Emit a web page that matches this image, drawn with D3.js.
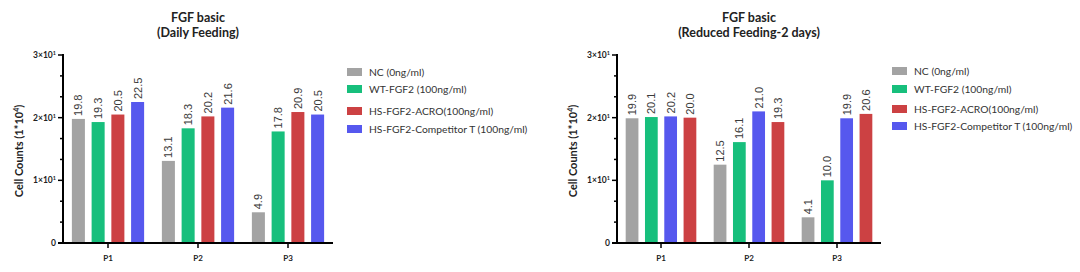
<!DOCTYPE html>
<html>
<head>
<meta charset="utf-8">
<script src="https://cdn.jsdelivr.net/npm/d3@7"></script>
<style>
  body { margin: 0; background: #fff; }
  svg { display: block; }
</style>
</head>
<body>
<div id="chart"></div>
<script>
var passages = ["P1", "P2", "P3"];
var seriesNames = ["NC (0ng/ml)", "WT-FGF2 (100ng/ml)", "HS-FGF2-ACRO(100ng/ml)", "HS-FGF2-Competitor T (100ng/ml)"];
var seriesColors = ["#a3a3a3", "#17bf7c", "#cc4143", "#5658ee"];

// daily feeding, values per series (NC, WT, ACRO, Competitor) across P1..P3
var dailyNC = [19.8, 13.1, 4.9];
var dailyWT = [19.3, 18.3, 17.8];
var dailyACRO = [20.5, 20.2, 20.9];
var dailyComp = [22.5, 21.6, 20.5];

// reduced feeding, bars drawn in order NC, WT, Competitor, ACRO
var reducedNC = [19.9, 12.5, 4.1];
var reducedWT = [20.1, 16.1, 10.0];
var reducedACRO = [20.0, 19.3, 20.6];
var reducedComp = [20.2, 21.0, 19.9];

var yTicks = [0, 10, 20, 30];
var yTickLabels = ["0", "1×10", "2×10", "3×10"];

var svg = d3.select("#chart").append("svg")
  .attr("width", 1080)
  .attr("height", 272);

var FONT = "Lato, 'Open Sans', sans-serif";

function drawChart(opt) {
  var x0 = d3.scaleBand().domain(passages).range([opt.left, opt.right]);
  var x1 = d3.scaleBand().domain(d3.range(4)).range([0, x0.bandwidth()])
    .paddingInner(0.34).paddingOuter(0.45);
  var y = d3.scaleLinear().domain([0, 30]).range([243, 55]);

  var g = svg.append("g");

  // title
  g.append("text")
    .attr("x", (opt.left + opt.right) / 2).attr("y", 22)
    .attr("text-anchor", "middle")
    .style("font", "bold 12.5px " + FONT).attr("fill", "#222")
    .text("FGF basic");
  g.append("text")
    .attr("x", (opt.left + opt.right) / 2).attr("y", 37)
    .attr("text-anchor", "middle")
    .style("font", "bold 12.5px " + FONT).attr("fill", "#222")
    .text(opt.subtitle);

  // bars
  var rows = [];
  passages.forEach(function(p, i) {
    opt.order.forEach(function(s, j) {
      rows.push({p: p, slot: j, series: s, value: opt.data[s][i]});
    });
  });

  g.selectAll("rect.bar").data(rows).enter().append("rect")
    .attr("class", "bar")
    .attr("x", function(d) { return x0(d.p) + x1(d.slot); })
    .attr("width", x1.bandwidth())
    .attr("y", function(d) { return y(d.value); })
    .attr("height", function(d) { return y(0) - y(d.value); })
    .attr("fill", function(d) { return seriesColors[d.series]; });

  g.selectAll("text.val").data(rows).enter().append("text")
    .attr("class", "val")
    .attr("transform", function(d) {
      var cx = x0(d.p) + x1(d.slot) + x1.bandwidth() / 2 + 4;
      return "translate(" + cx + "," + (y(d.value) - 3) + ") rotate(-90)";
    })
    .style("font", "11px 'Liberation Sans', Arial, sans-serif")
    .attr("fill", "#3a3a3a")
    .text(function(d) { return d.value.toFixed(1); });

  // y axis: minor ticks at thirds between majors
  var minorVals = [];
  for (var k = 0; k < 3; k++) {
    minorVals.push(k * 10 + 10 / 3, k * 10 + 20 / 3);
  }
  g.selectAll("line.minor").data(minorVals).enter().append("line")
    .attr("x1", opt.left - 3).attr("x2", opt.left)
    .attr("y1", function(d) { return y(d); })
    .attr("y2", function(d) { return y(d); })
    .attr("stroke", "#000").attr("stroke-width", 1.5);

  g.selectAll("line.major").data(yTicks).enter().append("line")
    .attr("x1", opt.left - 5).attr("x2", opt.left)
    .attr("y1", function(d) { return y(d); })
    .attr("y2", function(d) { return y(d); })
    .attr("stroke", "#000").attr("stroke-width", 1.5);

  var tl = g.selectAll("text.ytick").data(yTicks).enter().append("text")
    .attr("x", opt.left - 7)
    .attr("y", function(d) { return y(d) + 3; })
    .attr("text-anchor", "end")
    .style("font", "bold 8.5px " + FONT).attr("fill", "#222");
  tl.append("tspan").text(function(d, i) { return yTickLabels[i]; });
  tl.filter(function(d) { return d !== 0; }).append("tspan")
    .attr("dy", -3).style("font-size", "5.5px").text("1");

  g.append("line")
    .attr("x1", opt.left).attr("x2", opt.left)
    .attr("y1", y(30) - 1).attr("y2", y(0) + 1)
    .attr("stroke", "#000").attr("stroke-width", 2);

  // x axis
  g.append("line")
    .attr("x1", opt.left - 5).attr("x2", opt.right)
    .attr("y1", y(0)).attr("y2", y(0))
    .attr("stroke", "#000").attr("stroke-width", 2);

  g.selectAll("line.xtick").data(passages).enter().append("line")
    .attr("x1", function(d) { return x0(d) + x0.bandwidth() / 2; })
    .attr("x2", function(d) { return x0(d) + x0.bandwidth() / 2; })
    .attr("y1", y(0)).attr("y2", y(0) + 5)
    .attr("stroke", "#000").attr("stroke-width", 1.5);

  g.selectAll("text.xlab").data(passages).enter().append("text")
    .attr("x", function(d) { return x0(d) + x0.bandwidth() / 2; })
    .attr("y", 261)
    .attr("text-anchor", "middle")
    .style("font", "bold 8px " + FONT).attr("fill", "#222")
    .text(function(d) { return d; });

  // y axis title
  var yt = g.append("text")
    .attr("transform", "translate(" + (opt.left - 40) + "," + 151 + ") rotate(-90)")
    .attr("text-anchor", "middle")
    .style("font", "bold 11px " + FONT).attr("fill", "#222");
  yt.append("tspan").text("Cell Counts  (1*10");
  yt.append("tspan").attr("dy", -4).style("font-size", "7px").text("4");
  yt.append("tspan").attr("dy", 4).text(")");

  // legend
  var lg = g.selectAll("g.leg").data(seriesNames).enter().append("g")
    .attr("transform", function(d, i) {
      return "translate(" + opt.legX + "," + opt.legY[i] + ")";
    });
  lg.append("rect")
    .attr("x", 0).attr("y", -4).attr("width", 15).attr("height", 8)
    .attr("fill", function(d, i) { return seriesColors[i]; });
  lg.append("text")
    .attr("x", 22).attr("y", 4)
    .style("font", "10.3px " + FONT).attr("fill", "#333")
    .text(function(d) { return d; });
}

drawChart({
  left: 63, right: 333, subtitle: "(Daily Feeding)",
  data: [dailyNC, dailyWT, dailyACRO, dailyComp], order: [0, 1, 2, 3],
  legX: 347, legY: [72, 89, 111, 129]
});

drawChart({
  left: 617, right: 881, subtitle: "(Reduced Feeding-2 days)",
  data: [reducedNC, reducedWT, reducedACRO, reducedComp], order: [0, 1, 3, 2],
  legX: 892, legY: [71, 89, 109, 126]
});
</script>
</body>
</html>
